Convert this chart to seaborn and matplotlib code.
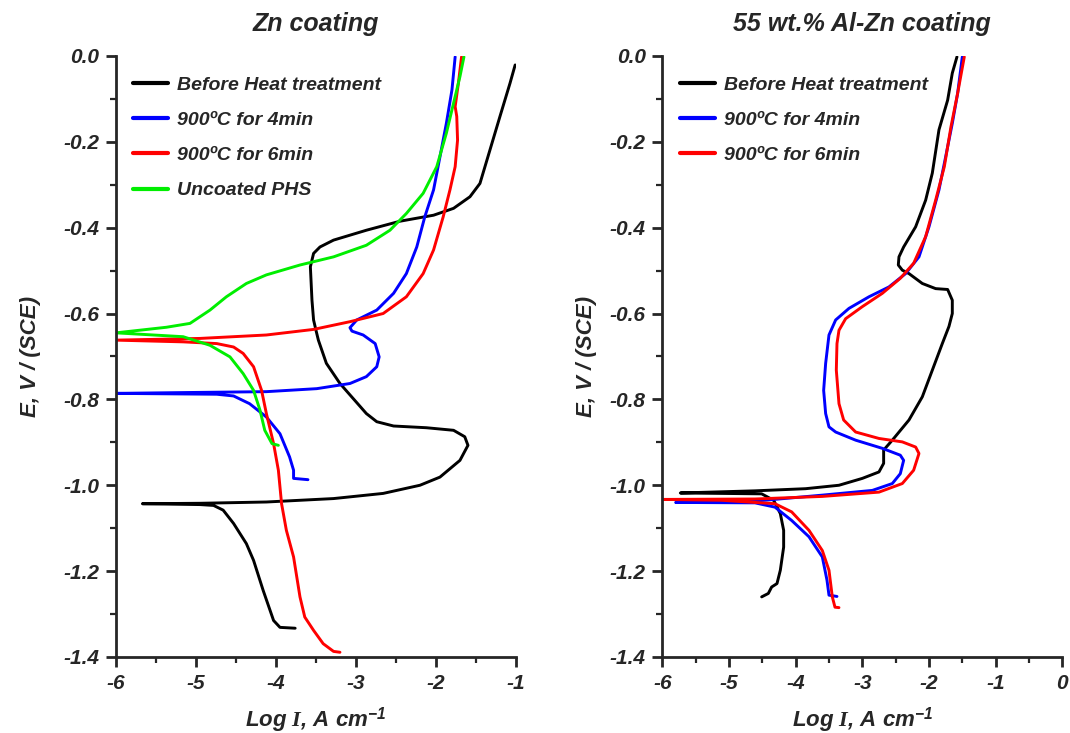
import numpy as np
import pandas as pd
import matplotlib
matplotlib.use("Agg")
import matplotlib.pyplot as plt
from matplotlib.ticker import MultipleLocator, FormatStrFormatter
import seaborn as sns

# ---------------- Zn coating (left) ----------------
zn_before_x = [-3.76, -3.95, -4.03, -4.16, -4.28, -4.37, -4.53, -4.66, -4.78, -4.95, -5.67,
               -4.95, -4.12, -3.28, -2.66, -2.20, -1.95, -1.70, -1.60, -1.64, -1.78, -2.12,
               -2.53, -2.74, -2.87, -3.20, -3.37, -3.47, -3.50, -3.53, -3.55, -3.57, -3.53,
               -3.45, -3.28, -2.87, -2.45, -2.03, -1.78, -1.575, -1.45, -1.325, -1.20,
               -1.075, -1.01]
zn_before_y = [-1.333, -1.331, -1.315, -1.245, -1.175, -1.136, -1.089, -1.058, -1.047, -1.045,
               -1.043, -1.042, -1.039, -1.031, -1.019, -1.000, -0.981, -0.942, -0.907, -0.887,
               -0.872, -0.866, -0.862, -0.852, -0.833, -0.763, -0.716, -0.662, -0.639, -0.615,
               -0.569, -0.491, -0.460, -0.445, -0.429, -0.406, -0.385, -0.371, -0.355, -0.328,
               -0.297, -0.219, -0.141, -0.064, -0.021]

zn_4min_x = [-3.60, -3.78, -3.78, -3.83, -3.95, -4.12, -4.33, -4.53, -4.74, -6.00,
             -5.10, -4.12, -3.49, -3.075, -2.87, -2.74, -2.71, -2.76, -2.91, -3.05, -3.075,
             -2.99, -2.74, -2.53, -2.37, -2.24, -2.14, -2.03, -1.95, -1.87, -1.80, -1.76]
zn_4min_y = [-0.987, -0.984, -0.965, -0.934, -0.880, -0.841, -0.810, -0.792, -0.788, -0.786,
             -0.784, -0.782, -0.775, -0.763, -0.747, -0.724, -0.701, -0.670, -0.650, -0.641,
             -0.633, -0.615, -0.592, -0.553, -0.507, -0.445, -0.375, -0.312, -0.235, -0.157,
             -0.079, -0.002]

zn_6min_x = [-3.20, -3.28, -3.41, -3.53, -3.64, -3.70, -3.78, -3.87, -3.93, -3.97, -4.03,
             -4.12, -4.18, -4.28, -4.41, -4.53, -4.74, -5.16, -6.00,
             -4.95, -4.12, -3.53, -3.075, -2.66, -2.37, -2.16, -2.03, -1.91, -1.825, -1.76,
             -1.73, -1.74, -1.76, -1.72, -1.68]
zn_6min_y = [-1.389, -1.387, -1.369, -1.338, -1.307, -1.260, -1.167, -1.105, -1.043, -0.965,
             -0.903, -0.833, -0.779, -0.724, -0.693, -0.678, -0.670, -0.666, -0.662,
             -0.658, -0.650, -0.637, -0.619, -0.600, -0.561, -0.507, -0.452, -0.375, -0.312,
             -0.258, -0.196, -0.141, -0.118, -0.064, -0.002]

zn_phs_x = [-3.97, -4.05, -4.14, -4.20, -4.28, -4.41, -4.575, -4.825, -5.16, -6.00,
            -5.37, -5.075, -4.825, -4.62, -4.37, -4.12, -3.70, -3.28, -2.87, -2.575, -2.37,
            -2.16, -1.99, -1.87, -1.78, -1.70, -1.65]
zn_phs_y = [-0.907, -0.903, -0.872, -0.825, -0.779, -0.740, -0.701, -0.674, -0.654, -0.645,
            -0.632, -0.623, -0.592, -0.561, -0.530, -0.510, -0.487, -0.468, -0.441, -0.406,
            -0.367, -0.320, -0.258, -0.180, -0.110, -0.048, -0.002]

# ---------------- 55 wt.% Al-Zn coating (right) ----------------
alzn_before_x = [-4.51, -4.41, -4.36, -4.28, -4.23, -4.18, -4.18, -4.23, -4.33, -4.51, -5.11,
                 -5.73, -4.61, -3.85, -3.35, -3.00, -2.75, -2.68, -2.68, -2.55, -2.30, -2.10,
                 -1.95, -1.80, -1.70, -1.65, -1.65, -1.72, -1.90, -2.10, -2.30, -2.40, -2.46,
                 -2.45, -2.38, -2.20, -2.05, -1.95, -1.85, -1.72, -1.65, -1.58]
alzn_before_y = [-1.260, -1.252, -1.237, -1.229, -1.198, -1.144, -1.105, -1.066, -1.035, -1.020,
                 -1.019, -1.018, -1.013, -1.008, -1.000, -0.984, -0.969, -0.949, -0.918, -0.895,
                 -0.848, -0.794, -0.732, -0.670, -0.630, -0.600, -0.569, -0.544, -0.542, -0.530,
                 -0.507, -0.499, -0.487, -0.468, -0.445, -0.398, -0.336, -0.273, -0.172, -0.103,
                 -0.040, -0.002]

alzn_4min_x = [-3.38, -3.50, -3.53, -3.60, -3.80, -4.06, -4.31, -4.61, -5.80,
               -4.61, -3.60, -2.85, -2.55, -2.43, -2.38, -2.43, -2.70, -3.10, -3.40, -3.50,
               -3.55, -3.58, -3.55, -3.50, -3.40, -3.20, -2.90, -2.60, -2.35, -2.15, -2.00,
               -1.85, -1.75, -1.65, -1.57, -1.50]
alzn_4min_y = [-1.259, -1.256, -1.221, -1.167, -1.120, -1.082, -1.051, -1.041, -1.040,
               -1.037, -1.023, -1.012, -0.996, -0.973, -0.942, -0.930, -0.914, -0.895, -0.876,
               -0.864, -0.833, -0.779, -0.716, -0.650, -0.615, -0.588, -0.561, -0.538, -0.507,
               -0.468, -0.398, -0.312, -0.235, -0.157, -0.087, -0.002]

alzn_6min_x = [-3.35, -3.41, -3.45, -3.50, -3.60, -3.80, -4.06, -4.31, -5.11, -5.98,
               -4.61, -3.60, -2.75, -2.40, -2.23, -2.15, -2.20, -2.40, -2.75, -3.10, -3.28,
               -3.35, -3.39, -3.38, -3.35, -3.25, -3.00, -2.70, -2.43, -2.23, -2.05, -1.90,
               -1.77, -1.67, -1.57, -1.47]
alzn_6min_y = [-1.285, -1.284, -1.260, -1.198, -1.152, -1.105, -1.062, -1.043, -1.035, -1.033,
               -1.032, -1.026, -1.016, -0.996, -0.965, -0.926, -0.911, -0.899, -0.891, -0.876,
               -0.848, -0.810, -0.732, -0.670, -0.639, -0.612, -0.584, -0.553, -0.518, -0.483,
               -0.421, -0.336, -0.258, -0.165, -0.087, -0.002]

label_before = "Before Heat treatment"
label_4min = "900ºC for 4min"
label_6min = "900ºC for 6min"
label_phs = "Uncoated PHS"

palette = {label_before: "#000000", label_4min: "#0000ff",
           label_6min: "#ff0000", label_phs: "#00ee00"}


def frame(series):
    parts = []
    for name, xs, ys in series:
        parts.append(pd.DataFrame({"logI": xs, "E": ys, "curve": name}))
    return pd.concat(parts, ignore_index=True)


zn_df = frame([(label_before, zn_before_x, zn_before_y),
               (label_4min, zn_4min_x, zn_4min_y),
               (label_6min, zn_6min_x, zn_6min_y),
               (label_phs, zn_phs_x, zn_phs_y)])
alzn_df = frame([(label_before, alzn_before_x, alzn_before_y),
                 (label_4min, alzn_4min_x, alzn_4min_y),
                 (label_6min, alzn_6min_x, alzn_6min_y)])

sns.set_style("ticks")
plt.rcParams["font.family"] = ["Liberation Sans", "DejaVu Sans"]
plt.rcParams["axes.unicode_minus"] = False
plt.rcParams["mathtext.fontset"] = "custom"
plt.rcParams["mathtext.it"] = "Liberation Serif:bold:italic"
plt.rcParams["mathtext.bf"] = "Liberation Sans:bold:italic"
plt.rcParams["mathtext.rm"] = "Liberation Sans:bold:italic"

fig = plt.figure(figsize=(10.7, 7.33), dpi=100)
ax1 = fig.add_axes([0.1084, 0.1037, 0.3738, 0.8200])
ax2 = fig.add_axes([0.6190, 0.1037, 0.3738, 0.8200])

bold_it = dict(fontweight="bold", fontstyle="italic")

panels = [
    (ax1, zn_df, "Zn coating", (-6, -1), [label_before, label_4min, label_6min, label_phs], 16),
    (ax2, alzn_df, "55 wt.% Al-Zn coating", (-6, 0), [label_before, label_4min, label_6min], 9),
]

for ax, df, title, xlim, order, ypad in panels:
    sns.lineplot(data=df, x="logI", y="E", hue="curve", hue_order=order,
                 palette=palette, sort=False, estimator=None, linewidth=2.1, ax=ax)
    ax.set_xlim(*xlim)
    ax.set_ylim(-1.4, 0.0)
    ax.xaxis.set_major_locator(MultipleLocator(1))
    ax.xaxis.set_minor_locator(MultipleLocator(0.5))
    ax.yaxis.set_major_locator(MultipleLocator(0.2))
    ax.yaxis.set_minor_locator(MultipleLocator(0.1))
    ax.yaxis.set_major_formatter(FormatStrFormatter("%.1f"))
    ax.xaxis.set_major_formatter(FormatStrFormatter("%d"))
    for side in ("top", "right"):
        ax.spines[side].set_visible(False)
    for side in ("left", "bottom"):
        ax.spines[side].set_linewidth(2.0)
    ax.tick_params(which="major", direction="out", length=7, width=2.0,
                   labelsize=15, pad=5)
    ax.tick_params(which="minor", direction="out", length=4.5, width=1.6)
    for lab in ax.get_xticklabels() + ax.get_yticklabels():
        lab.set_fontweight("bold")
        lab.set_fontstyle("italic")
    ax.set_xlabel(r"Log $\mathit{I}$, A cm$^{\mathbf{-1}}$", fontsize=16, labelpad=9, **bold_it)
    ax.set_ylabel("E, V / (SCE)", fontsize=16, labelpad=ypad, **bold_it)
    ax.set_title(title, fontsize=18, pad=18, **bold_it)
    leg = ax.legend(loc="upper left", bbox_to_anchor=(0.0, 0.995), frameon=False,
                    handlelength=1.8, handletextpad=0.45, labelspacing=0.9,
                    prop=dict(family="Liberation Sans", weight="bold", style="italic", size=14))
    for line in leg.get_lines():
        line.set_linewidth(3.0)

fig.savefig("out.png", dpi=100, facecolor="white")
